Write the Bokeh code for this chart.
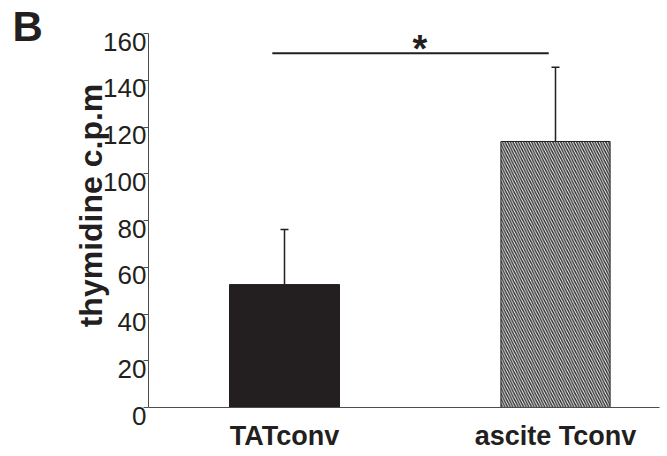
import math
from bokeh.plotting import figure
from bokeh.models import Range1d, FixedTicker, Label, LabelSet, Whisker, ColumnDataSource, TeeHead
from bokeh.core.properties import value
from bokeh.embed import file_html
from bokeh.resources import INLINE

# data
categories = ["TATconv", "ascite Tconv"]
positions = [1, 2]
means = [52.6, 113.8]
errors = [23.6, 31.8]
y_ticks = [0, 20, 40, 60, 80, 100, 120, 140, 160]
y_tick_labels = ["0", "20", "40", "60", "80", "100", "120", "140", "160"]
y_axis_bounds = (0, 160)
sig_x = [0.955, 1.975]
sig_y = 151.6
star_x = 1.5
star_y = 153.4

FONT = "Liberation Sans"
DARK = "#231f20"

W, H = 667, 456
X_AXIS_AT = 0.4982
p = figure(width=W, height=H, output_backend="svg", toolbar_location=None,
           x_range=Range1d(-0.048, 2.4133), y_range=Range1d(-20.96, 174.12),
           min_border_left=0, min_border_right=0, min_border_top=0, min_border_bottom=0)
p.outline_line_color = None
p.xgrid.visible = False
p.ygrid.visible = False
p.background_fill_color = "white"
p.border_fill_color = "white"

# bars
p.vbar(x=[positions[0]], top=[means[0]], width=0.406, bottom=0,
       fill_color=DARK, line_color=DARK, line_width=1)
p.vbar(x=[positions[1]], top=[means[1]], width=0.403, bottom=0,
       fill_color="white", line_color=DARK, line_width=1,
       hatch_pattern="\\", hatch_color="#333333", hatch_scale=5.3, hatch_weight=1.5)

# error bars (upper only)
src = ColumnDataSource(dict(x=positions, lo=means, hi=[m + e for m, e in zip(means, errors)]))
w = Whisker(base="x", lower="lo", upper="hi", source=src, dimension="height",
            line_color=DARK, line_width=1.5,
            upper_head=TeeHead(size=8, line_color=DARK, line_width=1.5), lower_head=None)
p.add_layout(w)

# significance bar
p.line(x=sig_x, y=[sig_y, sig_y], line_color=DARK, line_width=2)
p.text(x=[star_x], y=[star_y], text=["*"], text_font=value(FONT), text_font_style="bold",
       text_font_size="38px", text_align="center", text_baseline="alphabetic", text_color=DARK)

# axes (placed at fixed data locations)
p.xaxis.fixed_location = 0
p.xaxis.bounds = (X_AXIS_AT, 2.384)
p.xaxis.ticker = FixedTicker(ticks=positions)
p.xaxis.major_label_overrides = {pos: c for pos, c in zip(positions, categories)}
p.xaxis.major_tick_line_color = None
p.xaxis.minor_tick_line_color = None
p.xaxis.axis_line_color = "#4d4d4d"
p.xaxis.major_label_text_font = FONT
p.xaxis.major_label_text_font_style = "bold"
p.xaxis.major_label_text_font_size = "27px"
p.xaxis.major_label_text_color = DARK
p.xaxis.major_label_standoff = 7

p.yaxis.fixed_location = X_AXIS_AT
p.yaxis.bounds = y_axis_bounds
p.yaxis.ticker = FixedTicker(ticks=y_ticks)
p.yaxis.major_tick_out = 5
p.yaxis.major_tick_in = 0
p.yaxis.minor_tick_line_color = None
p.yaxis.axis_line_color = "#4d4d4d"
p.yaxis.major_tick_line_color = "#4d4d4d"
p.yaxis.major_label_text_font_size = "0px"
p.yaxis.major_label_text_alpha = 0
p.yaxis.major_label_standoff = 0

# y tick labels, sitting slightly below their ticks as in the reference
lab_src = ColumnDataSource(dict(y=y_ticks, text=y_tick_labels, x=[146] * len(y_ticks)))
p.add_layout(LabelSet(x="x", y="y", text="text", source=lab_src,
                      x_units="screen", y_units="data", y_offset=-8,
                      text_align="right", text_baseline="middle",
                      text_font=value(FONT), text_font_size="26px", text_color=DARK))

# y axis title
p.add_layout(Label(x=90, y=H - 205, x_units="screen", y_units="screen", text="thymidine c.p.m",
                   angle=math.pi / 2, text_align="center", text_baseline="middle",
                   text_font=FONT, text_font_style="bold", text_font_size="32px",
                   text_color=DARK))
# panel letter
p.add_layout(Label(x=12, y=H - 26, x_units="screen", y_units="screen", text="B",
                   text_align="left", text_baseline="alphabetic",
                   text_font=FONT, text_font_style="bold", text_font_size="42px",
                   text_color=DARK))

open("out.html", "w").write(file_html(p, INLINE))
